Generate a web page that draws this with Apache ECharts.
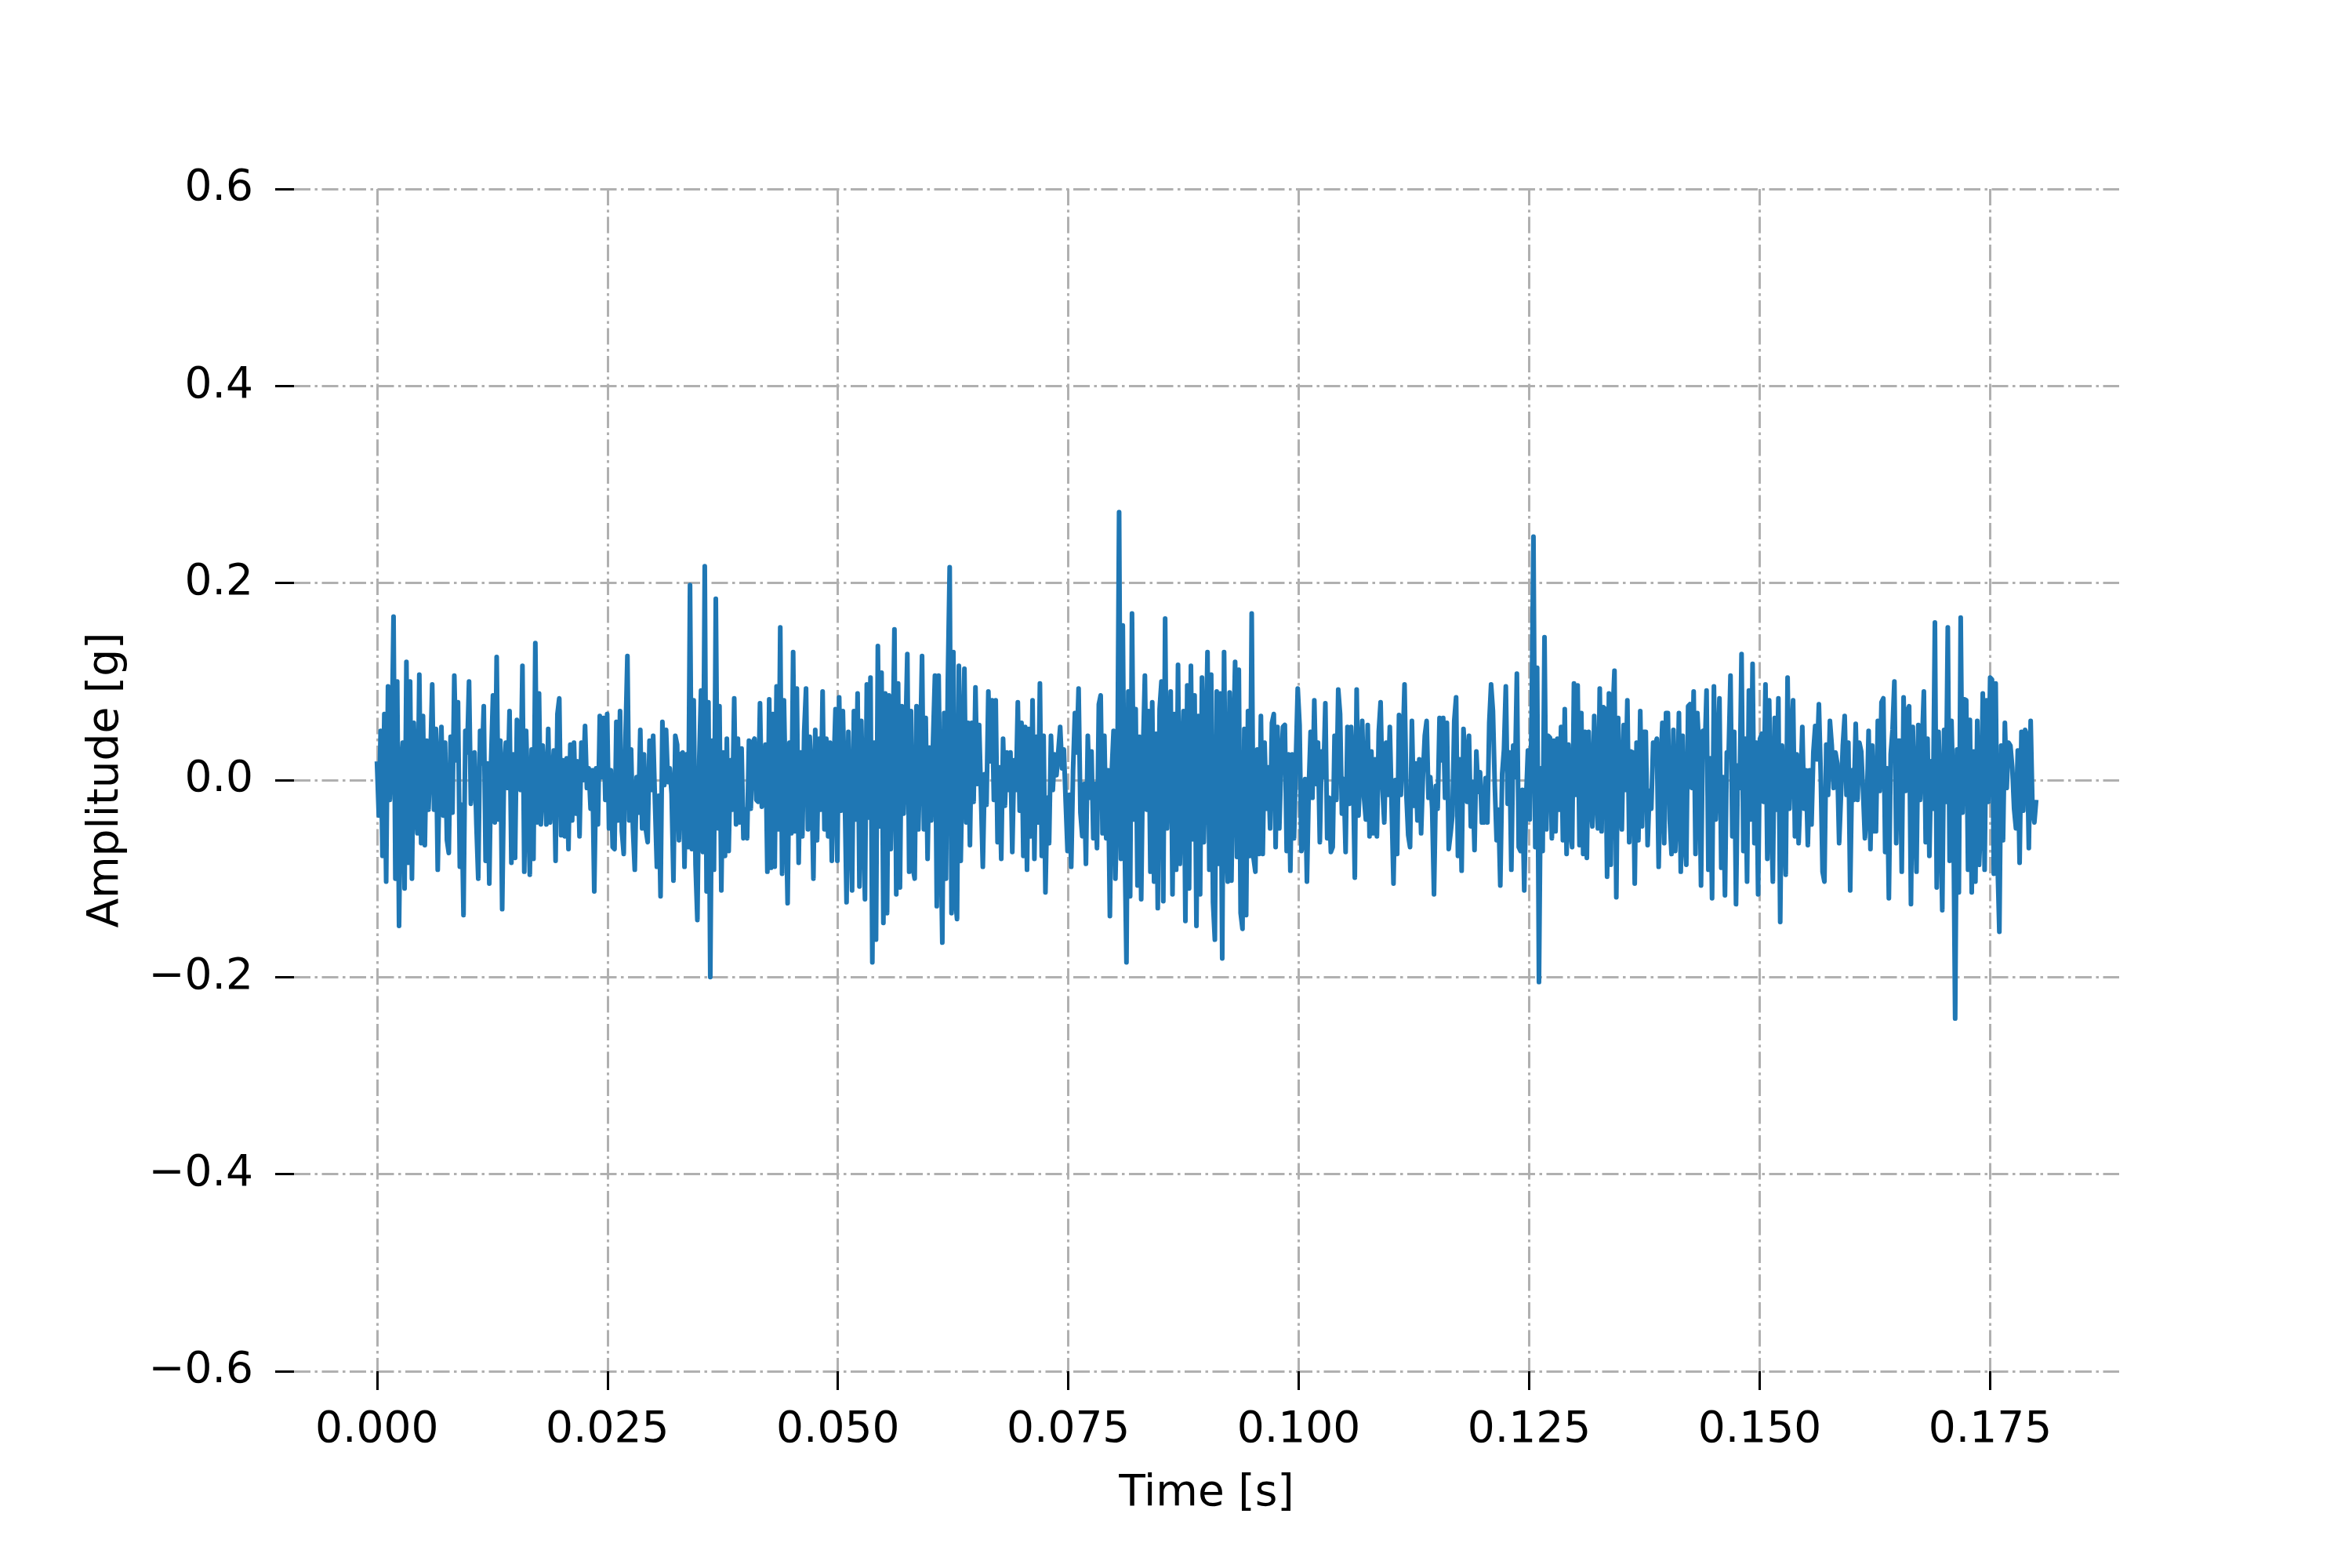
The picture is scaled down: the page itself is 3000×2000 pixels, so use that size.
<!DOCTYPE html>
<html>
<head>
<meta charset="utf-8">
<script src="https://cdn.jsdelivr.net/npm/echarts@6/dist/echarts.min.js"></script>
<style>html,body{margin:0;padding:0;background:#fff;}#main{width:3000px;height:2000px;}</style>
</head>
<body>
<div id="main"></div>
<script>
// Amplitude [g], in 0.02 s segments (uniform sampling)
const amp_000_020 = [0.019,-0.036,0.05,-0.077,0.067,-0.103,0.095,-0.02,0.03,0.166,
 -0.10,0.10,-0.148,0.01,0.038,-0.11,0.12,-0.084,0.10,-0.10,
 0.058,-0.02,-0.054,0.107,-0.064,0.065,-0.066,0.04,-0.03,0.02,
 0.097,-0.03,0.052,-0.091,0.01,0.054,-0.036,0.038,-0.061,-0.074,
 0.044,-0.033,0.106,0.02,0.079,-0.088,-0.025,-0.137,0.05,0.028,
 0.10,-0.024,0.01,0.028,-0.045,-0.10,0.05,0.017,0.075,-0.082,
 0.017,-0.105,0.02,0.086,-0.043,0.125,-0.04,0.04,-0.131,0.01,
 0.038,-0.008,0.07,-0.084,0.026,-0.079,0.061,0.052,-0.01,0.116,
 -0.093,0.05,-0.02,-0.096,0.031,-0.08,0.139,-0.043,0.088,-0.045,
 0.035,0.00,-0.045,0.052,-0.043,-0.004,0.03,-0.082,0.067,0.083];
const amp_020_040 = [-0.056,0.02,-0.057,0.022,-0.07,0.036,-0.041,0.038,-0.034,0.019,
 -0.057,0.038,0.0,0.055,-0.008,0.012,-0.029,0.01,-0.113,0.012,
 -0.045,0.065,0.003,0.063,-0.02,0.067,-0.049,0.01,-0.068,-0.07,
 0.059,-0.041,0.07,-0.052,-0.075,0.045,0.126,-0.041,0.031,-0.049,
 -0.091,0.003,-0.033,0.051,-0.049,0.026,-0.05,-0.063,0.04,-0.01,
 0.045,-0.024,-0.088,-0.016,-0.118,0.059,-0.005,0.051,-0.002,0.012,
 -0.014,-0.102,0.045,0.036,-0.061,0.026,0.028,-0.088,0.026,-0.068,
 0.198,-0.07,0.081,-0.086,-0.142,0.02,0.091,-0.073,0.217,-0.113,
 0.079,-0.20,0.04,-0.091,0.184,-0.049,0.075,-0.112,0.028,-0.077,
 0.042,-0.072,0.02,-0.03,0.083,-0.045,0.042,-0.043,0.032,-0.059];
const amp_040_060 = [-0.03,-0.059,0.04,-0.029,0.038,0.042,-0.02,-0.022,0.078,-0.027,
 -0.01,0.036,-0.093,0.082,-0.089,0.067,-0.088,0.095,-0.05,0.155,
 -0.095,0.081,-0.02,-0.125,0.038,-0.054,0.13,-0.052,0.093,-0.084,
 0.028,-0.057,0.049,0.093,-0.05,0.044,0.0,-0.10,0.051,-0.061,
 0.042,-0.03,0.09,-0.05,0.042,-0.057,0.038,-0.082,0.01,0.072,
 -0.082,0.084,-0.031,0.07,-0.01,-0.124,0.049,-0.03,-0.112,0.07,
 -0.04,0.088,-0.108,0.06,-0.03,-0.121,0.097,-0.038,0.104,-0.185,
 0.038,-0.162,0.136,-0.047,0.109,-0.145,0.088,-0.135,0.086,-0.07,
 0.02,0.153,-0.116,0.098,-0.109,0.075,-0.034,0.04,0.128,-0.093,
 0.07,-0.089,-0.10,0.075,-0.05,0.03,0.126,-0.05,0.063,-0.08];
const amp_060_080 = [0.033,-0.041,0.042,0.106,-0.128,0.106,-0.043,-0.165,0.068,
 -0.10,0.10,0.216,-0.135,0.13,-0.12,-0.141,0.116,-0.082,0.02,
 0.113,-0.043,0.058,-0.066,0.058,-0.022,0.094,-0.004,0.056,-0.015,
 -0.088,0.006,-0.025,0.09,0.019,0.081,-0.02,0.081,-0.063,0.013,-0.08,
 0.042,-0.026,0.028,-0.01,0.028,-0.073,0.02,-0.01,0.079,-0.031,0.058,
 -0.077,0.054,-0.091,0.052,-0.057,0.081,-0.08,0.044,-0.043,0.098,
 -0.077,0.045,-0.114,-0.018,-0.064,0.045,-0.01,0.026,0.005,0.029,
 0.054,0.012,0.031,-0.022,-0.072,-0.015,-0.088,0.01,0.068,0.028,
 0.093,-0.033,-0.057,-0.004,-0.085,0.045,-0.018,0.029,-0.059,-0.004,
 -0.069,0.077,0.086,-0.054,0.045,-0.059,0.01,-0.138,0.008,0.05];
const amp_080_100 = [-0.10,-0.02,0.272,-0.08,0.157,-0.06,-0.185,0.09,-0.118,0.169,
 -0.04,0.072,-0.107,0.044,-0.121,0.03,0.106,-0.03,0.07,-0.093,
 0.079,-0.103,0.047,-0.13,0.072,0.10,-0.123,0.164,-0.049,0.02,
 0.09,-0.116,0.067,-0.091,0.117,-0.085,0.0,0.07,-0.143,0.096,
 -0.11,0.116,-0.06,0.086,-0.148,0.065,-0.116,0.104,-0.063,0.02,
 0.13,-0.091,0.107,-0.124,-0.162,0.09,-0.085,0.088,-0.181,0.13,
 -0.05,-0.103,0.089,-0.102,0.03,0.12,-0.078,0.112,-0.135,-0.151,
 0.052,-0.137,0.07,-0.077,0.169,-0.079,-0.093,0.031,-0.075,0.065,
 -0.075,0.038,-0.029,0.013,-0.049,0.058,0.067,-0.068,0.054,-0.049,
 0.017,0.054,0.056,-0.072,0.026,-0.092,0.026,-0.059,0.02,0.093];
const amp_100_120 = [0.056,-0.072,-0.06,0.001,-0.103,-0.008,0.049,-0.018,0.081,-0.004,
 0.038,-0.063,0.029,0.003,0.078,-0.059,-0.018,-0.073,-0.068,0.045,
 -0.02,0.092,0.067,-0.034,0.001,-0.073,0.054,-0.024,0.054,0.01,
 -0.099,0.092,-0.036,0.01,0.06,-0.018,-0.04,0.056,-0.057,0.029,
 -0.054,0.021,-0.057,0.049,0.079,-0.009,-0.043,0.038,-0.015,0.054,
 -0.026,-0.105,0.0,-0.075,0.066,-0.015,0.03,0.097,-0.015,-0.056,
 -0.068,0.06,-0.026,0.017,-0.041,0.021,-0.054,0.005,0.045,0.06,
 -0.018,0.003,-0.029,-0.116,-0.006,-0.029,0.063,0.02,0.063,-0.018,0.058,
 -0.07,-0.054,-0.036,0.06,0.084,-0.077,0.021,-0.092,0.052,0.021,
 -0.022,0.045,-0.047,-0.002,-0.071,0.029,-0.012,0.008,-0.043];
const amp_120_140 = [-0.043,0.002,-0.043,0.058,0.097,0.07,-0.005,-0.061,-0.03,-0.107,
 0.006,0.031,0.095,-0.024,0.028,-0.091,0.035,0.003,0.108,-0.068,
 -0.072,-0.01,-0.112,-0.02,0.03,-0.04,0.06,0.247,-0.068,0.114,-0.205,0.012,
 -0.072,0.145,-0.05,0.045,0.043,-0.059,0.04,-0.052,0.042,-0.03,
 0.054,-0.061,0.072,-0.075,0.036,-0.05,-0.068,0.098,-0.015,0.096,
 -0.066,0.068,-0.075,0.049,-0.079,0.049,-0.011,-0.047,0.065,-0.008,
 -0.049,0.093,-0.052,0.074,0.072,-0.098,0.088,-0.086,0.065,0.111,
 -0.119,0.063,-0.015,-0.05,0.056,-0.01,0.081,-0.063,0.029,0.028,
 -0.105,0.038,-0.061,0.07,-0.047,0.049,0.049,-0.066,-0.011,-0.029,
 0.038,0.035,0.042,-0.088,0.01,0.058,-0.064,0.068];
const amp_140_160 = [0.068,-0.04,-0.075,0.051,-0.072,-0.03,0.068,-0.093,0.045,-0.06,
 -0.086,0.075,0.077,-0.008,0.09,-0.075,0.068,0.03,-0.107,0.05,
 0.024,0.091,-0.091,0.022,-0.12,0.095,-0.04,0.02,0.083,-0.089,
 0.003,-0.117,0.028,0.026,0.106,-0.057,0.049,-0.126,0.015,-0.008,
 0.128,-0.072,0.042,-0.103,0.091,-0.04,0.118,-0.064,0.038,-0.116,
 0.042,0.047,-0.022,0.097,-0.08,0.081,-0.029,-0.103,0.063,-0.03,
 0.083,-0.144,0.035,-0.03,-0.096,0.104,-0.029,0.035,0.081,-0.057,
 0.026,-0.064,-0.011,0.054,-0.029,0.01,-0.066,0.01,-0.045,0.028,
 0.055,0.021,0.077,0.006,-0.093,-0.103,0.036,-0.015,0.06,0.035,
 -0.008,0.028,0.017,-0.064,-0.015,0.035,0.065,-0.015,0.038,-0.112];
const amp_160_180 = [0.01,-0.02,0.057,-0.02,0.038,0.029,-0.012,-0.059,-0.03,0.05,
 -0.07,0.035,-0.052,-0.052,0.06,-0.011,0.079,0.083,-0.073,0.012,
 -0.12,0.026,0.051,0.10,-0.064,0.04,0.04,-0.093,0.084,-0.011,
 0.07,0.075,-0.126,0.054,-0.015,-0.093,0.056,-0.02,0.035,0.09,
 -0.063,0.042,-0.077,0.019,-0.029,0.16,-0.109,0.049,-0.022,-0.132,
 0.051,-0.022,0.155,-0.082,0.06,-0.022,-0.242,0.031,-0.114,0.165,
 -0.033,0.082,0.081,-0.091,0.061,-0.114,0.029,-0.103,0.06,-0.086,
 -0.04,0.088,-0.091,0.081,-0.022,0.104,0.102,-0.095,0.098,-0.082,
 -0.154,0.035,-0.061,0.058,-0.008,0.038,0.035,0.013,-0.029,-0.049,
 0.03,-0.084,0.049,-0.031,0.051,0.045,-0.069,0.06,-0.03,-0.043,
 -0.02];

const duration = 0.18;               // seconds, last sample time
const xTickValues = [0, 0.025, 0.05, 0.075, 0.1, 0.125, 0.15, 0.175];
const yTickValues = [-0.6, -0.4, -0.2, 0, 0.2, 0.4, 0.6];

const amplitude = [].concat(amp_000_020, amp_020_040, amp_040_060, amp_060_080,
  amp_080_100, amp_100_120, amp_120_140, amp_140_160, amp_160_180);
const step = duration / (amplitude.length - 1);
const seriesData = amplitude.map((v, i) => [i * step, v]);

const FONT = 'DejaVu Sans';
const gridStyle = {color: '#b0b0b0', width: 3, type: [21, 5.5, 3.5, 5.5]};

const chart = echarts.init(document.getElementById('main'), null, {renderer: 'canvas', width: 3000, height: 2000});
chart.setOption({
  backgroundColor: '#ffffff',
  animation: false,
  grid: {left: 375, right: 297, top: 241, bottom: 251, containLabel: false},
  xAxis: {
    type: 'value', min: -0.009, max: 0.189,
    name: 'Time [s]', nameLocation: 'middle', nameGap: 129,
    nameTextStyle: {fontFamily: FONT, fontSize: 55, color: '#000'},
    axisLine: {show: false, onZero: false},
    axisTick: {show: true, length: 24, lineStyle: {color: '#000', width: 3}, customValues: xTickValues},
    axisLabel: {customValues: xTickValues, formatter: v => v.toFixed(3), fontFamily: FONT, fontSize: 55, color: '#000', margin: 48},
    splitLine: {show: true, lineStyle: gridStyle}
  },
  yAxis: {
    type: 'value', min: -0.6, max: 0.6, interval: 0.2,
    name: 'Amplitude [g]', nameLocation: 'middle', nameGap: 212, nameRotate: 90,
    nameTextStyle: {fontFamily: FONT, fontSize: 55, color: '#000'},
    axisLine: {show: false, onZero: false},
    axisTick: {show: true, length: 24, lineStyle: {color: '#000', width: 3}, customValues: yTickValues},
    axisLabel: {customValues: yTickValues, formatter: v => (Math.abs(v) < 1e-9 ? '0.0' : v.toFixed(1).replace('-', '\u2212')), fontFamily: FONT, fontSize: 55, color: '#000', margin: 52},
    splitLine: {show: true, lineStyle: gridStyle}
  },
  series: [{
    type: 'line', data: seriesData, showSymbol: false, symbol: 'none', silent: true,
    lineStyle: {color: '#1f77b4', width: 6, join: 'round'}
  }]
});
</script>
</body>
</html>
